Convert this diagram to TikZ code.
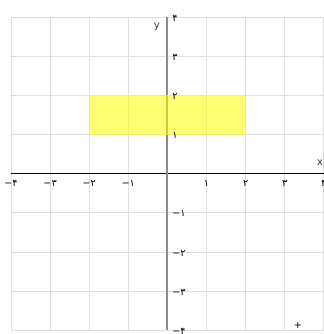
\documentclass[tikz,border=0pt]{standalone}
\usepackage{fontspec}
\setmainfont{DejaVu Sans}
\newfontfamily\fadigits{DejaVu Sans}
\definecolor{gridgray}{RGB}{222,222,222}
\definecolor{yaxisgray}{RGB}{140,140,140}
\definecolor{labgray}{RGB}{60,60,60}
\definecolor{regionyellow}{RGB}{255,255,0}
\begin{document}
\begin{tikzpicture}[x=1cm,y=1cm,
  gridline/.style={draw=gridgray, line width=0.5pt},
  xaxisline/.style={draw=black, line width=0.7pt},
  yaxisline/.style={draw=yaxisgray, line width=1.5pt},
  xticklab/.style={font=\fadigits\fontsize{7}{8}\selectfont, anchor=north, inner sep=0pt},
  yticklab/.style={font=\fadigits\fontsize{7}{8}\selectfont, anchor=west, inner sep=0pt},
  axislab/.style={font=\fontsize{7.5}{9}\selectfont, text=labgray, inner sep=0pt},
  region/.style={fill=regionyellow, fill opacity=0.55, draw=none}]
\useasboundingbox (-4.28,-4.10) rectangle (4.0,4.44);
% grid
\draw[gridline] (-4,-4) grid (4,4);
% axes
\coordinate (xmin) at (-4,0);
\coordinate (xmax) at (4,0);
\coordinate (ymin) at (0,-4);
\coordinate (ymax) at (0,4);
\draw[xaxisline] (xmin) -- (xmax);
\draw[yaxisline] (ymin) -- (ymax);
% yellow region
\coordinate (r1) at (-2,1);
\coordinate (r2) at (2,2);
\fill[region] (r1) rectangle (r2);
% x tick labels
\foreach \i/\t in {-4/−۴,-3/−۳,-2/−۲,-1/−۱,1/۱,2/۲,3/۳,4/۴}
  \node[xticklab] (xt\i) at (\i,-0.17) {\t};
% y tick labels
\foreach \j/\t in {-4/−۴,-3/−۳,-2/−۲,-1/−۱,1/۱,2/۲,3/۳,4/۴}
  \node[yticklab] (yt\j) at (0.12,\j-0.03) {\t};
% axis names
\node[axislab] (xname) at (3.9,0.29) {x};
\node[axislab] (yname) at (-0.27,3.76) {y};
% plus marker
\node[font=\fontsize{7}{8}\selectfont, inner sep=0pt] (plus) at (3.34,-3.87) {+};
\end{tikzpicture}
\end{document}
